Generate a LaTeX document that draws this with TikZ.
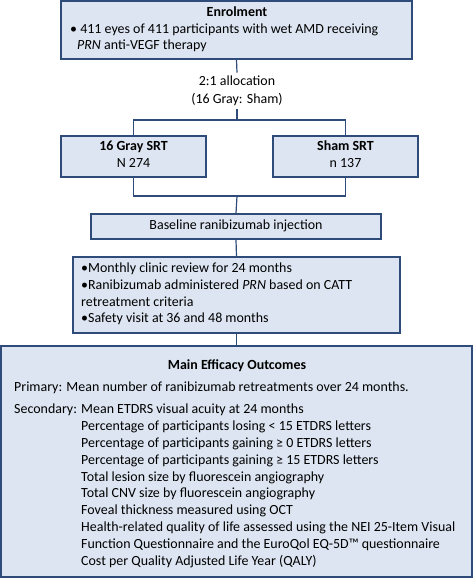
\documentclass[tikz,border=0pt]{standalone}
\usepackage{fontspec}
\setmainfont{Carlito}
\definecolor{bd}{HTML}{2F4B7A}
\definecolor{bf}{HTML}{DCE5F1}
\begin{document}
\begin{tikzpicture}[x=1bp,y=-1bp,
  box/.style={draw=bd,fill=bf,line width=1.8bp,inner sep=0},
  txt/.style={inner sep=0,font=\fontsize{14}{16}\selectfont},
  bt/.style={txt,font=\fontsize{14}{16}\selectfont\bfseries},
  ln/.style={draw=bd,line width=1.2bp}]
\useasboundingbox (0,0) rectangle (473,578);
% boxes
\node[box,minimum width=351bp,minimum height=58bp] (enrol) at (236.5,30) {};
\node[box,minimum width=145bp,minimum height=41bp] (gray) at (133.5,156.5) {};
\node[box,minimum width=145bp,minimum height=41bp] (sham) at (345.5,156.5) {};
\node[box,minimum width=290bp,minimum height=25bp] (base) at (236,226.5) {};
\node[box,minimum width=327bp,minimum height=76bp] (month) at (236.5,295) {};
\node[box,minimum width=471bp,minimum height=231bp] (main) at (236.5,461.5) {};
% enrolment text
\node[bt,anchor=mid] (t1) at (237,14) {Enrolment};
\node[txt,anchor=mid west] (t2) at (70,31) {\textbullet\ 411 eyes of 411 participants with wet AMD receiving};
\node[txt,anchor=mid west] (t3) at (77,47) {\textit{PRN} anti-VEGF therapy};
% allocation
\node[txt,align=center,inner sep=3bp,font=\fontsize{14}{18.3}\selectfont] (alloc) at (237,91) {2:1 allocation\\(16 Gray: Sham)};
% arms
\node[bt,anchor=mid] (g1) at (133.5,148) {16 Gray SRT};
\node[txt,anchor=mid] (g2) at (133.5,165) {N 274};
\node[bt,anchor=mid] (s1) at (345.5,148) {Sham SRT};
\node[txt,anchor=mid] (s2) at (345.5,165) {n 137};
\node[txt,anchor=mid] (b1) at (236,227) {Baseline ranibizumab injection};
% monthly
\node[txt,anchor=mid west] (m1) at (81,270) {\textbullet Monthly clinic review for 24 months};
\node[txt,anchor=mid west] (m2) at (81,287) {\textbullet Ranibizumab administered \textit{PRN} based on CATT};
\node[txt,anchor=mid west] (m3) at (81,304) {retreatment criteria};
\node[txt,anchor=mid west] (m4) at (81,320) {\textbullet Safety visit at 36 and 48 months};
% main
\node[bt,anchor=mid] (o0) at (237,367) {Main Efficacy Outcomes};
\node[txt,anchor=mid west] (o1) at (14,389) {Primary: Mean number of ranibizumab retreatments over 24 months.};
\node[txt,anchor=mid west] (o2) at (14,411) {Secondary:};
\node[txt,anchor=mid west] (o3) at (81,411) {Mean ETDRS visual acuity at 24 months};
\node[txt,anchor=mid west] (o4) at (81,428) {Percentage of participants losing < 15 ETDRS letters};
\node[txt,anchor=mid west] (o5) at (81,445) {Percentage of participants gaining ≥ 0 ETDRS letters};
\node[txt,anchor=mid west] (o6) at (81,462) {Percentage of participants gaining ≥ 15 ETDRS letters};
\node[txt,anchor=mid west] (o7) at (81,479) {Total lesion size by fluorescein angiography};
\node[txt,anchor=mid west] (o8) at (81,495) {Total CNV size by fluorescein angiography};
\node[txt,anchor=mid west] (o9) at (81,512) {Foveal thickness measured using OCT};
\node[txt,anchor=mid west] (o10) at (81,529) {Health-related quality of life assessed using the NEI 25-Item Visual};
\node[txt,anchor=mid west] (o11) at (81,546) {Function Questionnaire and the EuroQol EQ-5D™ questionnaire};
\node[txt,anchor=mid west] (o12) at (81,563) {Cost per Quality Adjusted Life Year (QALY)};
% connectors
\coordinate (split) at (237,120);
\coordinate (join) at (237,196);
\draw[ln] (enrol.south) -- (alloc.north);
\draw[ln] (alloc.south) -- (split);
\draw[ln] (gray.north) |- (split) -| (sham.north);
\draw[ln] (gray.south) |- (join) -| (sham.south);
\draw[ln] (join) -- (base.north);
\draw[ln] (base.south) -- (month.north);
\draw[ln] (month.south) -- (main.north);
\end{tikzpicture}
\end{document}
